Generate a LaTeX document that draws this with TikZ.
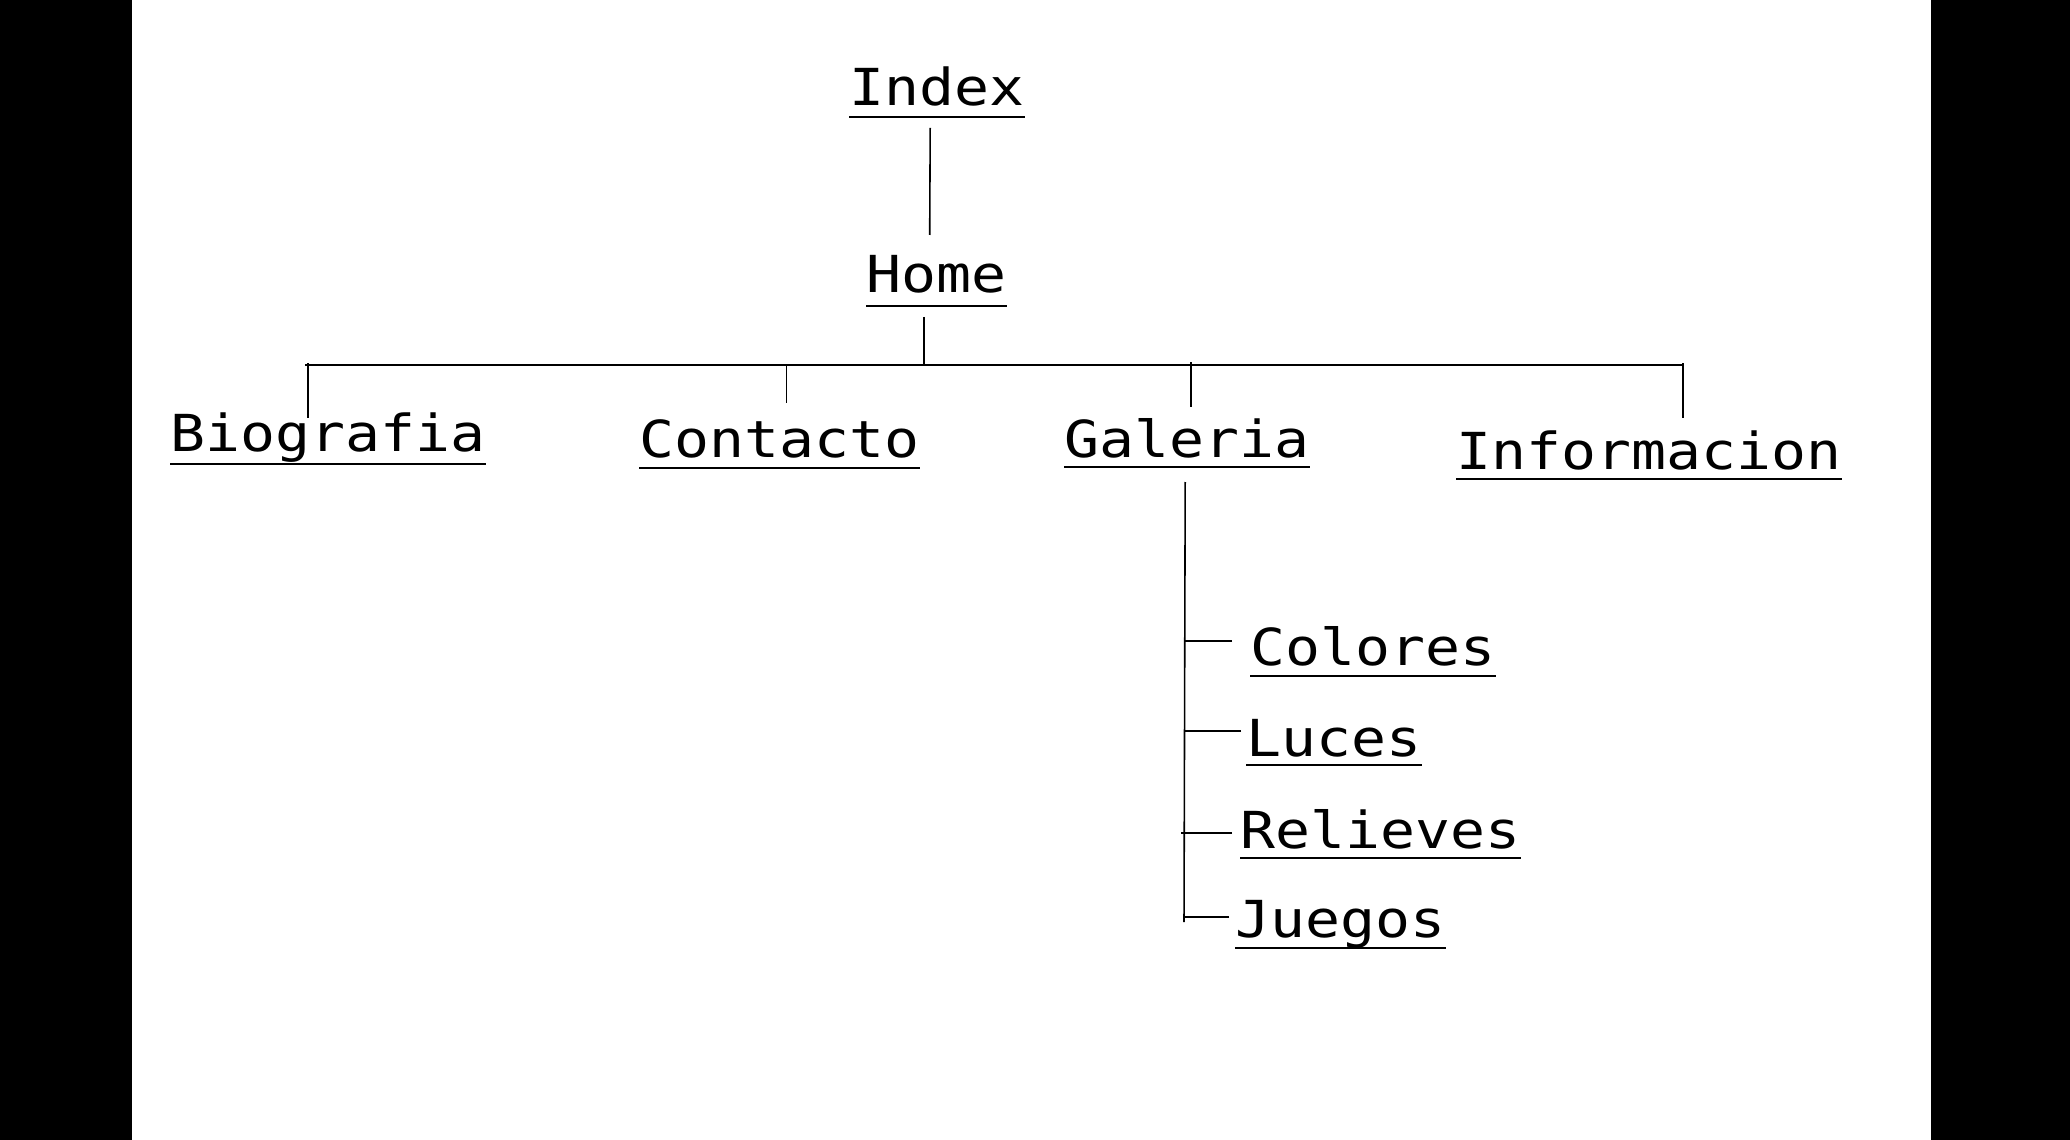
\documentclass[tikz,border=0pt]{standalone}
\usepackage{fontspec}
\setmonofont[FakeStretch=1.14]{DejaVu Sans Mono}
\usetikzlibrary{calc}

\tikzset{
  page/.style={inner sep=0pt, anchor=base west, font=\ttfamily\fontsize{14.5}{18}\selectfont},
  conn/.style={line width=0.45pt, black},
  uline/.style={line width=0.8pt, black}
}

\begin{document}
\begin{tikzpicture}[x=0.01cm, y=-0.01cm]
			% Frame
			\useasboundingbox (0,0) rectangle (2070,1140);
			\fill[white] (0,0) rectangle (2070,1140);
			\fill[black] (0,0) rectangle (132,1140);
			\fill[black] (1931,0) rectangle (2070,1140);

			% Pages
			\node[page] (index) at (849,106) {Index};
			\node[page] (home) at (866,293) {Home};
			\node[page] (bio) at (170,452) {Biografia};
			\node[page] (contacto) at (639,458) {Contacto};
			\node[page] (galeria) at (1064,457) {Galeria};
			\node[page] (info) at (1456,469) {Informacion};
			\node[page] (colores) at (1250,665) {Colores};
			\node[page] (luces) at (1246,756) {Luces};
			\node[page] (relieves) at (1240,848) {Relieves};
			\node[page] (juegos) at (1235,937) {Juegos};

			% Underlines
			\foreach \n/\d in {index/11, home/13, bio/12, contacto/10, galeria/10, info/10, colores/11, luces/9, relieves/10, juegos/11}
				\draw[uline] ($(\n.base west)+(0,\d)$) -- ($(\n.base east)+(0,\d)$);

			% Index to Home
			\draw[conn] ($(index.base)+(-7,22)$) -- ($(home.base)+(-7,-58)$);

			% Menu bar
			\coordinate (busL) at (305,365);
			\coordinate (busR) at (1682,365);
			\draw[conn] (busL) -- (busR);
			\draw[conn] ($(home.base)+(-13,24)$) -- ($(home.base)+(-13,72)$);

			% Drops to the pages
			\draw[conn] ($(bio.base west)+(138,-34)$) -- ++(0,-55);
			\draw[conn] ($(contacto.base)+(7,-55)$) -- ++(0,-38);
			\draw[conn] ($(galeria.base)+(4,-50)$) -- ++(0,-45);
			\draw[conn] ($(info.base)+(34,-51)$) -- ++(0,-55);

			% Galeria submenu
			\coordinate (trunk) at (1184,922);
			\draw[conn] ($(galeria.base)+(-2,25)$) -- (trunk);
			\draw[conn] ($(colores.base west)+(-18,-24)$) -- ++(-48,0);
			\draw[conn] ($(luces.base west)+(-5,-25)$) -- ++(-57,0);
			\draw[conn] ($(relieves.base west)+(-8,-15)$) -- ++(-51,0);
			\draw[conn] ($(juegos.base west)+(-6,-20)$) -- ++(-45,0);
		\end{tikzpicture}
\end{document}
